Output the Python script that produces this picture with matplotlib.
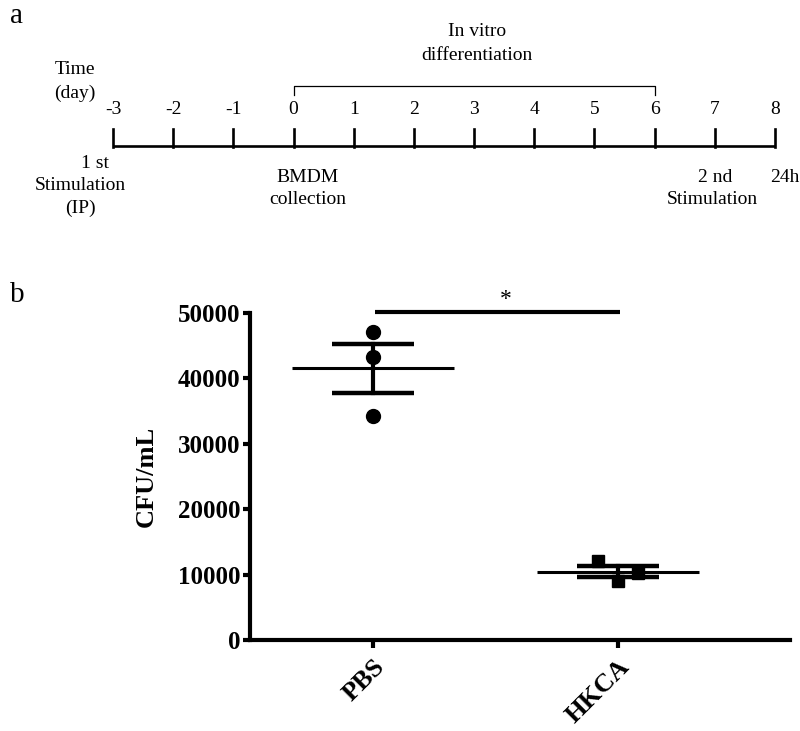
import numpy as np
import matplotlib
matplotlib.use("Agg")
import matplotlib.pyplot as plt

# ---------------- data ----------------
days = [-3, -2, -1, 0, 1, 2, 3, 4, 5, 6, 7, 8]
day_labels = ["-3", "-2", "-1", "0", "1", "2", "3", "4", "5", "6", "7", "8"]
diff_start, diff_end = 0, 6
groups = ["PBS", "HKCA"]
pbs_values = [47100, 43200, 34250]
hkca_values = [12080, 9070, 10250]
hkca_jitter = [-0.08, 0.0, 0.08]
yticks = [0, 10000, 20000, 30000, 40000, 50000]

SERIF = ["Liberation Serif", "DejaVu Serif"]
plt.rcParams["font.family"] = SERIF

W, H = 800, 731
fig = plt.figure(figsize=(W / 100, H / 100), dpi=100)

# ---------------- panel a : timeline ----------------
top_h = 225
axa = fig.add_axes([0, 1 - top_h / H, 1, top_h / H])
px_per_day = (775 - 113) / (days[-1] - days[0])
x0 = days[0] - 113 / px_per_day
x1 = days[-1] + (W - 775) / px_per_day
axa.set_xlim(x0, x1)
axa.set_ylim(top_h, 0)  # pixel-like vertical units
axa.axis("off")

FS = 14
line_y = 146
axa.plot([days[0], days[-1]], [line_y, line_y], color="black", lw=1.9,
         solid_capstyle="butt")
for d, lab in zip(days, day_labels):
    axa.plot([d, d], [129, line_y + 1], color="black", lw=1.9)
    axa.text(d, 109, lab, ha="center", va="center", fontsize=FS)

# bracket for in vitro differentiation
axa.plot([diff_start, diff_start, diff_end, diff_end], [95, 86, 86, 95],
         color="black", lw=0.9)
mid = (diff_start + diff_end) / 2
axa.text(mid + 0.05, 32, "In vitro", ha="center", va="center", fontsize=FS)
axa.text(mid + 0.05, 55, "differentiation", ha="center", va="center", fontsize=FS)

axa.text(days[0] - 38 / px_per_day, 69, "Time", ha="center", va="center", fontsize=FS)
axa.text(days[0] - 38 / px_per_day, 93, "(day)", ha="center", va="center", fontsize=FS)

axa.text(days[0] - 18 / px_per_day, 163, "1 st", ha="center", va="center", fontsize=FS)
axa.text(days[0] - 33 / px_per_day, 186, "Stimulation", ha="center", va="center", fontsize=FS)
axa.text(days[0] - 33 / px_per_day, 208, "(IP)", ha="center", va="center", fontsize=FS)

axa.text(days[3] + 14 / px_per_day, 178, "BMDM", ha="center", va="center", fontsize=FS)
axa.text(days[3] + 14 / px_per_day, 200, "collection", ha="center", va="center", fontsize=FS)

axa.text(days[10], 178, "2 nd", ha="center", va="center", fontsize=FS)
axa.text(days[10] - 3 / px_per_day, 200, "Stimulation", ha="center", va="center", fontsize=FS)
axa.text(days[11] + 10 / px_per_day, 178, "24h", ha="center", va="center", fontsize=FS)

fig.text(10 / W, 1 - 16 / H, "a", fontsize=21, ha="left", va="center")
fig.text(10 / W, 1 - 295 / H, "b", fontsize=21, ha="left", va="center")

# ---------------- panel b : CFU ----------------
ax_left, ax_right = 250, 790
y_top, y_bot = 313, 640
axb = fig.add_axes([ax_left / W, (H - y_bot) / H, (ax_right - ax_left) / W,
                    (y_bot - y_top) / H])
unit = 618 - 373
axb.set_xlim(0 - (373 - ax_left) / unit, 1 + (ax_right - 618) / unit)
axb.set_ylim(0, 50000)
for s in ["top", "right"]:
    axb.spines[s].set_visible(False)
for s in ["left", "bottom"]:
    axb.spines[s].set_linewidth(3.0)
axb.set_yticks(yticks)
axb.set_yticklabels([str(v) for v in yticks], fontsize=18, fontweight="bold")
axb.set_xticks([0, 1])
axb.set_xticklabels(groups, fontsize=19, fontweight="bold", rotation=45,
                    ha="right", rotation_mode="anchor")
axb.tick_params(axis="y", length=5, width=3, pad=2)
axb.tick_params(axis="x", length=6, width=3, pad=5)
axb.set_ylabel("CFU/mL", fontsize=19, fontweight="bold", labelpad=14)

for i, vals in enumerate([pbs_values, hkca_values]):
    vals = np.asarray(vals, dtype=float)
    m = vals.mean()
    sem = vals.std(ddof=1) / np.sqrt(len(vals))
    axb.plot([i - 0.33, i + 0.33], [m, m], color="black", lw=2.2,
             solid_capstyle="butt", zorder=3)
    axb.plot([i, i], [m - sem, m + sem], color="black", lw=3.0, zorder=3)
    for yv in (m - sem, m + sem):
        axb.plot([i - 0.167, i + 0.167], [yv, yv], color="black", lw=3.2,
                 solid_capstyle="butt", zorder=3)

axb.plot([0] * len(pbs_values), pbs_values, "o", color="black", ms=10,
         zorder=4, clip_on=False)
axb.plot([1 + j for j in hkca_jitter], hkca_values, "s", color="black",
         ms=8.5, zorder=4, clip_on=False)

# significance bar
axb.plot([0.01, 1.01], [50150, 50150], color="black", lw=3.0,
         solid_capstyle="butt", clip_on=False)
axb.text(0.54, 52000, "*", ha="center", va="center", fontsize=17)

fig.savefig("out.png", dpi=100)
